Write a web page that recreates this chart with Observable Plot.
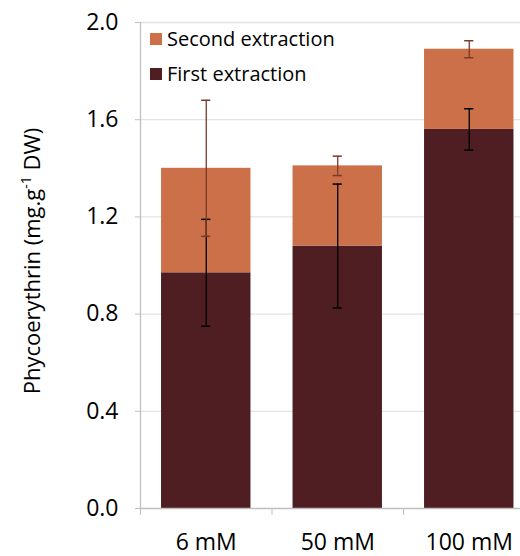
<!DOCTYPE html>
<html>
<head>
<meta charset="utf-8">
<script src="https://cdn.jsdelivr.net/npm/d3@7"></script>
<script src="https://cdn.jsdelivr.net/npm/@observablehq/plot@0.6"></script>
<style>
  body { margin: 0; background: white; }
  #wrap { position: relative; width: 520px; height: 556px; overflow: hidden; font-family: "Open Sans", sans-serif; }
  #legend { position: absolute; left: 150px; top: 21px; font-size: 20px; color: #000; }
  #legend .row { display: flex; align-items: center; height: 35px; }
  #legend .sw { width: 12px; height: 12px; margin-right: 5px; }
</style>
</head>
<body>
<div id="wrap"></div>
<script>
const categories = ["6 mM", "50 mM", "100 mM"];
const firstExtraction = [0.97, 1.08, 1.56];
const secondExtraction = [0.43, 0.33, 0.33];
const firstError = [0.22, 0.255, 0.085];
const secondError = [0.28, 0.04, 0.035];
const seriesNames = ["Second extraction", "First extraction"];
const seriesColors = ["#cc7049", "#4f1e22"];
const errorColors = ["#7a3b28", "#000000"];
const yTicks = [0, 0.4, 0.8, 1.2, 1.6, 2.0];
const yLabel = ["Phycoerythrin (mg.g", "-1", " DW)"];

const halfBar = 0.34;   // half bar width in category units
const halfCap = 0.035;  // half cap width in category units

const rows = categories.map((c, i) => ({
  cat: c, i, xc: i + 0.5,
  first: firstExtraction[i],
  total: firstExtraction[i] + secondExtraction[i],
  e1: firstError[i], e2: secondError[i]
}));

const plot = Plot.plot({
  width: 520,
  height: 556,
  marginLeft: 140,
  marginRight: -14.5,
  marginTop: 22,
  marginBottom: 48,
  style: { fontFamily: "Open Sans, sans-serif", background: "white", color: "black" },
  x: { type: "linear", domain: [0, categories.length], axis: null },
  y: { domain: [0, 2.0], axis: null },
  marks: [
    Plot.ruleY(yTicks.filter(d => d > 0), { stroke: "#e3e3e3", strokeWidth: 1.3 }),
    Plot.rectY(rows, { x1: d => d.xc - halfBar, x2: d => d.xc + halfBar, y1: 0, y2: "first", fill: seriesColors[1] }),
    Plot.rectY(rows, { x1: d => d.xc - halfBar, x2: d => d.xc + halfBar, y1: "first", y2: "total", fill: seriesColors[0] }),
    // first extraction error bars
    Plot.ruleX(rows, { x: "xc", y1: d => d.first - d.e1, y2: d => d.first + d.e1, stroke: errorColors[1], strokeWidth: 1.3 }),
    Plot.ruleY(rows, { y: d => d.first - d.e1, x1: d => d.xc - halfCap, x2: d => d.xc + halfCap, stroke: errorColors[1], strokeWidth: 1.5 }),
    Plot.ruleY(rows, { y: d => d.first + d.e1, x1: d => d.xc - halfCap, x2: d => d.xc + halfCap, stroke: errorColors[1], strokeWidth: 1.5 }),
    // second extraction error bars
    Plot.ruleX(rows, { x: "xc", y1: d => d.total - d.e2, y2: d => d.total + d.e2, stroke: errorColors[0], strokeWidth: 1.3 }),
    Plot.ruleY(rows, { y: d => d.total - d.e2, x1: d => d.xc - halfCap, x2: d => d.xc + halfCap, stroke: errorColors[0], strokeWidth: 1.5 }),
    Plot.ruleY(rows, { y: d => d.total + d.e2, x1: d => d.xc - halfCap, x2: d => d.xc + halfCap, stroke: errorColors[0], strokeWidth: 1.5 }),
    // axis lines
    Plot.ruleY([0], { stroke: "#bfbfbf", strokeWidth: 1.3 }),
    Plot.ruleX([0], { stroke: "#bfbfbf", strokeWidth: 1.3 }),
    // y axis ticks and labels
    Plot.axisY({ ticks: yTicks, tickSize: 5, tickFormat: () => "", stroke: "#bfbfbf", label: null }),
    Plot.axisY({ ticks: yTicks, tickSize: 0, tickPadding: 22, tickFormat: d3.format(".1f"), fontSize: 23, fill: "black", label: null }),
    // x axis separators and labels
    Plot.axisX({ ticks: d3.range(categories.length + 1), tickSize: 7, tickFormat: () => "", stroke: "#bfbfbf", label: null }),
    Plot.axisX({ ticks: rows.map(d => d.xc), tickSize: 0, tickPadding: 25, tickFormat: v => categories[Math.round(v - 0.5)], fontSize: 23, fill: "black", label: null })
  ]
});

// y axis title with superscript
const svg = d3.select(plot);
const t = svg.append("text")
  .attr("transform", "translate(40,261) rotate(-90)")
  .attr("text-anchor", "middle")
  .attr("font-size", 22)
  .attr("fill", "black")
  .attr("font-family", "Open Sans, sans-serif");
t.append("tspan").text(yLabel[0]);
t.append("tspan").attr("dy", -9).attr("font-size", 14).text(yLabel[1]);
t.append("tspan").attr("dy", 9).text(yLabel[2]);

const wrap = document.getElementById("wrap");
wrap.appendChild(plot);

const legend = d3.select(wrap).append("div").attr("id", "legend");
seriesNames.forEach((name, k) => {
  const row = legend.append("div").attr("class", "row");
  row.append("div").attr("class", "sw").style("background", seriesColors[k]);
  row.append("span").text(name);
});
</script>
</body>
</html>
